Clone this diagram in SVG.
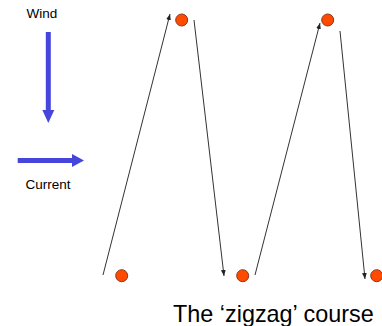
<svg xmlns="http://www.w3.org/2000/svg" width="382" height="326" viewBox="0 0 382 326">
<defs>
<style>
.lbl{font-family:"Liberation Sans",Arial,sans-serif;fill:#000}
.leg{stroke:#333;stroke-width:1;fill:none;marker-end:url(#ah)}
.buoy{fill:#FF4A00;stroke:#8a3a1a;stroke-width:1}
.big{stroke:#4646DC;stroke-width:5;fill:none}
.bighead{fill:#4646DC}
</style>
<marker id="ah" viewBox="0 0 10 10" refX="10" refY="5" markerWidth="6" markerHeight="6" orient="auto" markerUnits="userSpaceOnUse">
<path d="M0,1 L10,5 L0,9 Z" fill="#222"/>
</marker>
</defs>
<rect width="382" height="326" fill="#fff"/>
<g id="wind">
<text class="lbl" x="42" y="18" font-size="13.5" text-anchor="middle">Wind</text>
<line class="big" x1="48.3" y1="32" x2="48.3" y2="111"/>
<polygon class="bighead" points="42.3,110 54.3,110 48.3,123"/>
</g>
<g id="current">
<line class="big" x1="17.7" y1="160.5" x2="73" y2="160.5"/>
<polygon class="bighead" points="72,154 72,167 84,160.5"/>
<text class="lbl" x="48" y="189" font-size="13.5" text-anchor="middle">Current</text>
</g>
<g id="buoy-top1"><circle class="buoy" cx="181.7" cy="20" r="6"/></g>
<g id="buoy-top2"><circle class="buoy" cx="327.7" cy="20" r="6"/></g>
<g id="buoy-bot1"><circle class="buoy" cx="121.7" cy="275.7" r="6"/></g>
<g id="buoy-bot2"><circle class="buoy" cx="242.7" cy="275.7" r="6"/></g>
<g id="buoy-bot3"><circle class="buoy" cx="376.7" cy="275.7" r="6"/></g>
<g id="connectors">
<line class="leg" x1="103" y1="275" x2="170" y2="14"/>
<line class="leg" x1="194" y1="20" x2="224" y2="276"/>
<line class="leg" x1="255" y1="275" x2="320" y2="23"/>
<line class="leg" x1="340" y1="31" x2="365" y2="279"/>
</g>
<g id="title">
<text class="lbl" x="173" y="321.5" font-size="23.4">The ‘zigzag’ course</text>
</g>
</svg>
